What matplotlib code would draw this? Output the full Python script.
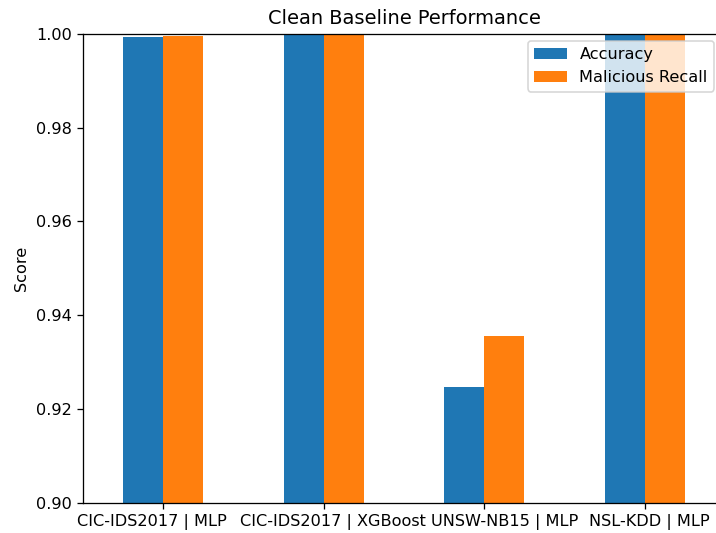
import numpy as np
import matplotlib
matplotlib.use("Agg")
import matplotlib.pyplot as plt
from matplotlib.transforms import ScaledTranslation

# values
setups = ["CIC-IDS2017 | MLP", "CIC-IDS2017 | XGBoost", "UNSW-NB15 | MLP", "NSL-KDD | MLP"]
accuracy = [0.9993, 1.0000, 0.9247, 1.0000]
malicious_recall = [0.9996, 1.0000, 0.9356, 1.0000]

DPI = 116  # reference looks rendered a bit larger than 100 dpi
fig = plt.figure(figsize=(716 / DPI, 533 / DPI), dpi=DPI)
# axes runs a bit past the right edge, as in the reference crop
ax = fig.add_axes([83 / 716, 1 - 503 / 533, 642 / 716, 469.3 / 533])

x = np.arange(len(setups))
w = 0.25
ax.bar(x - w / 2, accuracy, w, color="#1f77b4", label="Accuracy")
ax.bar(x + w / 2, malicious_recall, w, color="#ff7f0e", label="Malicious Recall")

ax.set_xticks(x)
ax.set_xticklabels(setups, rotation=0)
ax.set_xlim(-0.5, len(setups) - 0.5)
ax.set_ylim(0.90, 1.00)
ax.set_yticks([0.90, 0.92, 0.94, 0.96, 0.98, 1.00])
ax.set_ylabel("Score")
ax.set_title("Clean Baseline Performance")
ax.legend(loc="upper right", bbox_to_anchor=(0.983, 0.985), borderaxespad=0)

# the reference spreads the long labels apart so they don't collide
nudge_px = [-11, 9, 20, 5]
for lbl, dx in zip(ax.get_xticklabels(), nudge_px):
    lbl.set_transform(lbl.get_transform() + ScaledTranslation(dx / DPI, 0, fig.dpi_scale_trans))

fig.savefig("out.png", dpi=DPI)
